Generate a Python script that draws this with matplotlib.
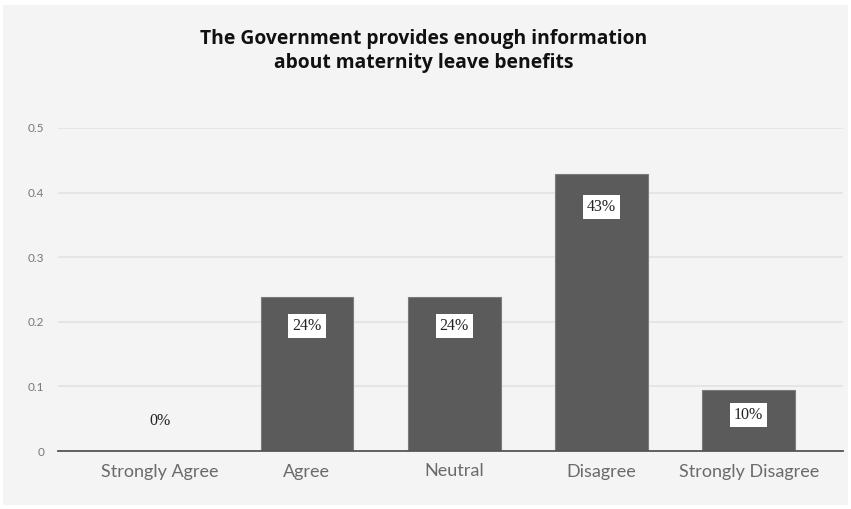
import matplotlib
matplotlib.use('Agg')
import matplotlib.pyplot as plt
from matplotlib.patches import Rectangle

categories = ['Strongly Agree', 'Agree', 'Neutral', 'Disagree', 'Strongly Disagree']
shares = [0.0, 0.238, 0.238, 0.429, 0.095]
yticks = [0, 0.1, 0.2, 0.3, 0.4, 0.5]
ytick_labels = ['0', '0.1', '0.2', '0.3', '0.4', '0.5']

title = 'The Government provides enough information\nabout maternity leave benefits'

bg = '#f4f4f4'
bar_col = '#5a5b5a'

fig = plt.figure(figsize=(8.51, 5.09), dpi=100, facecolor='white')
# light panel behind everything
fig.patches.append(Rectangle((3 / 851, 4 / 509), 845 / 851, 500 / 509,
                             transform=fig.transFigure, facecolor=bg,
                             edgecolor='none', zorder=-5))

ax_h = 323
ax = fig.add_axes([58 / 851, 1 - 451 / 509, 785 / 851, ax_h / 509])
ax.set_facecolor('none')

x = list(range(len(categories)))
ax.bar(x, shares, width=0.63, color=bar_col, edgecolor='#7a7b7a',
       linewidth=0.8, zorder=3)

# value tags sit a little below the bar top (taller bars push them lower)
for xi, v in zip(x, shares):
    bar_px = v / 0.5 * ax_h
    off = -(23 + 0.037 * bar_px) if v > 0 else 30
    ax.annotate(f'{v * 100:.0f}%', (xi, v), xytext=(0, off),
                textcoords='offset pixels',
                ha='center', va='center', fontsize=11.5,
                family='Liberation Serif', color='#222222', zorder=5,
                bbox=dict(boxstyle='square,pad=0.25',
                          fc='white' if v > 0 else 'none', ec='none'))

ax.set_xlim(-0.69, 4.64)
ax.set_ylim(0, 0.5)
ax.set_yticks(yticks)
ax.set_yticklabels(ytick_labels, fontsize=8.5, color='#777777', family='Lato')
ax.set_xticks(x)
ax.set_xticklabels(categories, fontsize=13, color='#6a6a6a', family='Lato')
ax.tick_params(axis='both', length=0)
ax.tick_params(axis='y', pad=10)
ax.tick_params(axis='x', pad=9)

ax.grid(axis='y', color='#e2e2e2', linewidth=1.2, zorder=0)
ax.set_axisbelow(True)
for side in ['top', 'right', 'left']:
    ax.spines[side].set_visible(False)
ax.spines['bottom'].set_color('#555555')
ax.spines['bottom'].set_linewidth(1.3)
ax.spines['bottom'].set_zorder(4)

fig.text(424 / 851, 1 - 51 / 509, title, ha='center', va='center',
         fontsize=13.9, fontweight='bold', family='Open Sans', color='#111111',
         linespacing=1.25)

fig.savefig('out.png', dpi=100, facecolor='white')
